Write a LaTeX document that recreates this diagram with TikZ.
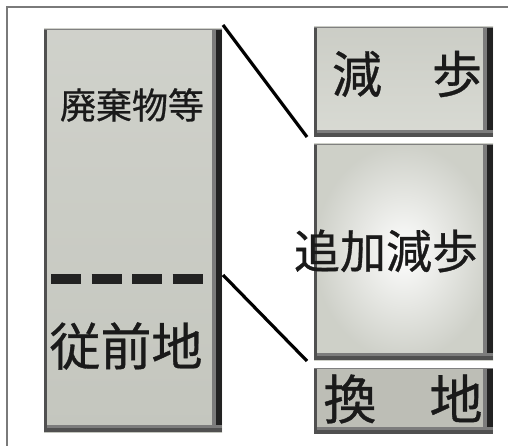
\documentclass[tikz,border=0pt]{standalone}
\usepackage{fontspec}
\newfontfamily\jp[FakeBold=0.7]{Noto Sans CJK JP}
\definecolor{frameC}{HTML}{7A7A7A}
\definecolor{edgeD}{HTML}{222222}
\definecolor{edgeM}{HTML}{505050}
\definecolor{boxA}{HTML}{C4C6BE}
\definecolor{boxB}{HTML}{D2D4CC}
\definecolor{boxC}{HTML}{BDBEB6}
\definecolor{inkC}{HTML}{1A1A1A}
\begin{document}
\begin{tikzpicture}[x=1pt,y=-1pt,
  panel/.style={rectangle, inner sep=0pt},
  rim/.style={fill=edgeD},
  rimsoft/.style={fill=edgeM!75!white},
  conn/.style={draw=black, line width=3.2pt},
  lbl/.style={text=inkC, inner sep=0pt, font=\jp}]
\useasboundingbox (0,0) rectangle (508,446);
\fill[white] (0,0) rectangle (508,446);
% frame
\draw[frameC, line width=1.6pt] (7,446) -- (7,7) -- (508,7);
% left tall panel
\node[panel, minimum width=178pt, minimum height=403pt, top color=boxA!80!white, bottom color=boxA, middle color=boxA!90!white] (L) at (133,230.5) {};
% right panels
\node[panel, minimum width=179pt, minimum height=110pt, top color=boxB!92!gray, bottom color=boxB!85!white] (R1) at (403.5,82) {};
\node[panel, minimum width=179pt, minimum height=216pt, inner color=white!97!boxB, outer color=boxB!95!gray] (R2) at (403.5,252) {};
\node[panel, minimum width=179pt, minimum height=66pt, fill=boxC] (R3) at (403.5,401) {};
% bevel edges
\foreach \n in {L,R1,R2,R3}{
  \path[rimsoft] ([xshift=-10pt]\n.north east) rectangle ([xshift=-5pt]\n.south east);
  \path[rim] ([xshift=-6pt]\n.north east) rectangle (\n.south east);
  \path[rimsoft] ([yshift=7pt]\n.south west) rectangle ([yshift=3.5pt]\n.south east);
  \path[fill=edgeM] ([yshift=4pt]\n.south west) rectangle (\n.south east);
  \path[fill=edgeM] (\n.north west) rectangle ([xshift=3pt]\n.south west);
  \path[fill=gray] (\n.north west) rectangle ([yshift=-1.5pt]\n.north east);
}
% dashed divider
\coordinate (d1) at (51,279);
\coordinate (d2) at (204,279);
\draw[edgeD, line width=10pt, dash pattern=on 30pt off 10.5pt] (d1) -- (d2);
% connectors
\coordinate (c1) at (223,25);
\coordinate (c2) at (307,137);
\coordinate (c3) at (223,275);
\coordinate (c4) at (307,361);
\draw[conn] (c1) -- (c2);
\draw[conn] (c3) -- (c4);
% labels
\node[lbl, font=\jp\fontsize{36}{36}\selectfont] (t1) at (132,105) {廃棄物等};
\node[lbl, font=\jp\fontsize{51}{51}\selectfont] (t2) at (126,346) {従前地};
\node[lbl, font=\jp\fontsize{50}{50}\selectfont] (t3) at (407,74) {減　歩};
\node[lbl, font=\jp\fontsize{46}{46}\selectfont] (t4) at (386,251) {追加減歩};
\node[lbl, font=\jp\fontsize{53}{53}\selectfont] (t5) at (403,399) {換　地};
\end{tikzpicture}
\end{document}
